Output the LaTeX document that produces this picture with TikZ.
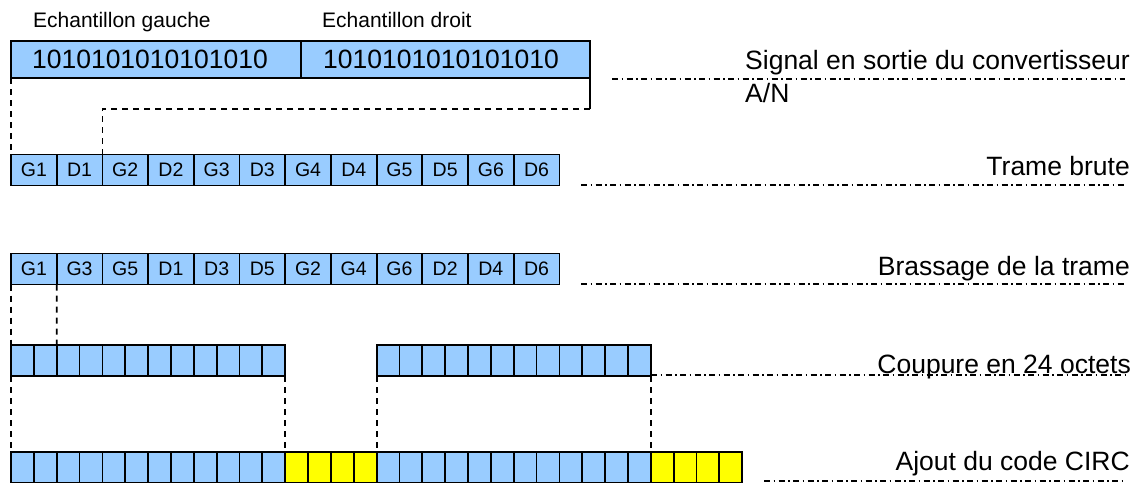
\documentclass[tikz,border=0pt]{standalone}
\usepackage{fontspec}
\setmainfont{Liberation Sans}
\definecolor{cblue}{HTML}{99CCFF}
\definecolor{cyellow}{HTML}{FFFF00}
\begin{document}
\begin{tikzpicture}[x=1pt,y=-1pt,
  box/.style={draw=black, line width=1.8pt, inner sep=0pt, outer sep=0pt, anchor=north west},
  sigbox/.style={box, fill=cblue, minimum height=37pt},
  bigcell/.style={box, fill=cblue, minimum width=45.7pt, minimum height=31pt, font=\fontsize{19.5}{19.5}\selectfont},
  smallcell/.style={box, fill=cblue, minimum width=22.85pt, minimum height=31pt},
  circcell/.style={smallcell, fill=cyellow},
  conn/.style={draw=black, line width=1.8pt, dash pattern=on 6pt off 5pt},
  sep/.style={draw=black, line width=1.4pt, dash pattern=on 6pt off 3.5pt on 1.5pt off 3.5pt},
  lab/.style={inner sep=0pt, font=\fontsize{26.5}{26.5}\selectfont},
  bin/.style={inner sep=0pt, font=\fontsize{26.5}{26.5}\selectfont},
  small/.style={inner sep=0pt, anchor=base west, font=\fontsize{21}{21}\selectfont}
]
\useasboundingbox (0,0) rectangle (1146,482);

% top labels
\node[small] (eg) at (33,27) {Echantillon gauche};
\node[small] (ed) at (322,27) {Echantillon droit};

% top signal boxes
\node[sigbox, minimum width=290pt] (s1) at (11,41) {};
\node[sigbox, minimum width=289pt] (s2) at (301,41) {};
\node[bin] (b1) at (150,59.5) {1010101010101010};
\node[bin] (b2) at (441,59.5) {1010101010101010};

% trame brute
\foreach \t [count=\i from 0] in {G1,D1,G2,D2,G3,D3,G4,D4,G5,D5,G6,D6}
  \node[bigcell] (tb\i) at ({11+\i*45.7},154.5) {\t};

% brassage
\foreach \t [count=\i from 0] in {G1,G3,G5,D1,D3,D5,G2,G4,G6,D2,D4,D6}
  \node[bigcell] (br\i) at ({11+\i*45.7},253.5) {\t};

% coupure
\foreach \i in {0,...,11}
  \node[smallcell] (cp\i) at ({11+\i*22.85},345) {};
\foreach \i in {16,...,27}
  \node[smallcell] (cp\i) at ({11+\i*22.85},345) {};

% ajout CIRC
\foreach \i in {0,...,11}
  \node[smallcell] (aj\i) at ({11+\i*22.85},452) {};
\foreach \i in {16,...,27}
  \node[smallcell] (aj\i) at ({11+\i*22.85},452) {};
\foreach \i in {12,...,15}
  \node[circcell] (aj\i) at ({11+\i*22.85},452) {};
\foreach \i in {28,...,31}
  \node[circcell] (aj\i) at ({11+\i*22.85},452) {};

% connectors
\draw[conn] (s1.south west) -- (tb0.north west);
\draw[line width=1.8pt] (s2.south east) -- ++(0,31) coordinate (k1);
\draw[conn] (k1) -| (tb2.north west);
\draw[conn] (br0.south west) -- (cp0.north west);
\draw[conn] (br1.south west) -- (cp2.north west);
\draw[conn] (cp0.south west) -- (aj0.north west);
\draw[conn] (cp11.south east) -- (aj12.north west);
\draw[conn] (cp16.south west) -- (aj16.north west);
\draw[conn] (cp27.south east) -- (aj28.north west);

% separator lines
\coordinate (l1a) at (612,79);   \coordinate (l1b) at (1125,79);
\coordinate (l2a) at (581,185);  \coordinate (l2b) at (1125,185);
\coordinate (l3a) at (581,284);  \coordinate (l3b) at (1125,284);
\coordinate (l4a) at (651,375);  \coordinate (l4b) at (1125,375);
\coordinate (l5a) at (764,481);  \coordinate (l5b) at (1125,481);
\draw[sep] (l1a) -- (l1b);
\draw[sep] (l2a) -- (l2b);
\draw[sep] (l3a) -- (l3b);
\draw[sep] (l4a) -- (l4b);
\draw[sep] (l5a) -- (l5b);

% right labels
\node[lab, anchor=base west] (ls1) at (745,69) {Signal en sortie du convertisseur};
\node[lab, anchor=base west] (ls2) at (745,102) {A/N};
\node[lab, anchor=base east] (ltb) at (1130,175) {Trame brute};
\node[lab, anchor=base east] (lbr) at (1130,275) {Brassage de la trame};
\node[lab, anchor=base east] (lcp) at (1131,373) {Coupure en 24 octets};
\node[lab, anchor=base east] (laj) at (1130,470) {Ajout du code CIRC};
\end{tikzpicture}
\end{document}
